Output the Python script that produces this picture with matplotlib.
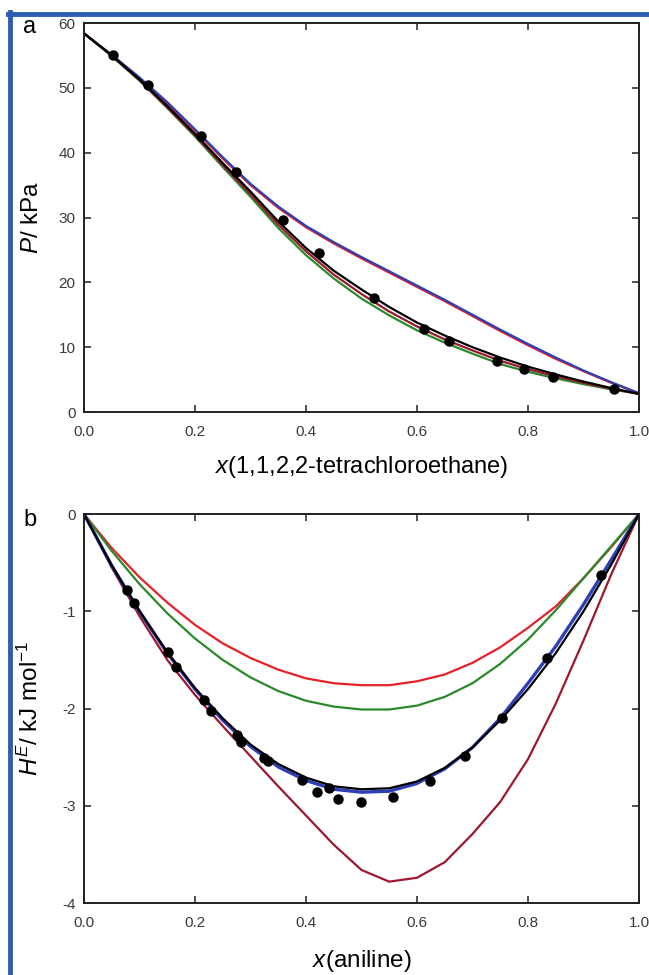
import numpy as np
import matplotlib
matplotlib.use("Agg")
import matplotlib.pyplot as plt
from matplotlib.lines import Line2D

plt.rcParams['font.family'] = ['Liberation Sans', 'DejaVu Sans']
plt.rcParams['mathtext.fontset'] = 'custom'
plt.rcParams['mathtext.rm'] = 'Liberation Sans'
plt.rcParams['mathtext.it'] = 'Liberation Sans:italic'

# ---- panel a: vapour pressure ----
xa_exp = [0.052, 0.115, 0.210, 0.273, 0.359, 0.424, 0.523, 0.612, 0.658, 0.745, 0.792, 0.845, 0.955]
pa_exp = [55.0, 50.4, 42.5, 37.0, 29.6, 24.5, 17.6, 12.8, 11.0, 7.9, 6.6, 5.4, 3.5]

x_grid = [0.00, 0.05, 0.10, 0.15, 0.20, 0.25, 0.30, 0.35, 0.40, 0.45, 0.50,
          0.55, 0.60, 0.65, 0.70, 0.75, 0.80, 0.85, 0.90, 0.95, 1.00]
pa_blue = [58.4, 55.1, 51.6, 47.8, 43.6, 39.3, 35.2, 31.7, 28.7, 26.2, 23.9,
           21.7, 19.5, 17.3, 15.0, 12.7, 10.5, 8.4, 6.4, 4.6, 2.9]
pa_red = [58.4, 55.0, 51.5, 47.6, 43.4, 39.1, 35.0, 31.5, 28.5, 26.0, 23.7,
          21.5, 19.3, 17.1, 14.8, 12.5, 10.3, 8.2, 6.3, 4.5, 2.9]
pa_black = [58.4, 55.0, 51.3, 47.2, 42.9, 38.4, 34.0, 29.4, 25.3, 21.8, 18.9,
            16.2, 13.8, 11.8, 10.0, 8.4, 7.0, 5.8, 4.7, 3.7, 2.8]
pa_dred = [58.4, 54.95, 51.2, 47.0, 42.7, 38.1, 33.6, 28.9, 24.8, 21.2, 18.2,
           15.5, 13.2, 11.2, 9.5, 7.9, 6.6, 5.5, 4.5, 3.6, 2.8]
pa_green = [58.4, 54.9, 51.1, 46.9, 42.5, 37.8, 33.2, 28.4, 24.2, 20.6, 17.5,
            14.9, 12.6, 10.7, 9.0, 7.4, 6.2, 5.2, 4.3, 3.5, 2.8]

# ---- panel b: excess enthalpy ----
xb_exp = [0.077, 0.091, 0.151, 0.166, 0.216, 0.229, 0.276, 0.283, 0.324, 0.332,
          0.392, 0.419, 0.441, 0.458, 0.500, 0.557, 0.623, 0.686, 0.754, 0.835, 0.931]
hb_exp = [-0.78, -0.92, -1.42, -1.57, -1.91, -2.03, -2.27, -2.34, -2.51, -2.54,
          -2.73, -2.86, -2.82, -2.93, -2.96, -2.91, -2.75, -2.49, -2.10, -1.48, -0.63]

hb_red = [0, -0.35, -0.65, -0.91, -1.14, -1.33, -1.48, -1.60, -1.69, -1.74, -1.76,
          -1.76, -1.72, -1.65, -1.53, -1.37, -1.17, -0.95, -0.66, -0.34, 0]
hb_green = [0, -0.38, -0.72, -1.02, -1.28, -1.50, -1.68, -1.82, -1.92, -1.98, -2.01,
            -2.01, -1.97, -1.88, -1.74, -1.54, -1.29, -0.99, -0.66, -0.33, 0]
hb_black = [0, -0.53, -1.00, -1.42, -1.79, -2.10, -2.37, -2.57, -2.71, -2.80, -2.83,
            -2.82, -2.75, -2.61, -2.40, -2.12, -1.80, -1.43, -1.00, -0.52, 0]
hb_blue = [0, -0.53, -1.00, -1.43, -1.80, -2.12, -2.39, -2.60, -2.74, -2.83, -2.86,
           -2.85, -2.77, -2.62, -2.40, -2.10, -1.74, -1.36, -0.93, -0.47, 0]
hb_dred = [0, -0.55, -1.05, -1.50, -1.86, -2.18, -2.49, -2.80, -3.10, -3.40, -3.66,
           -3.78, -3.74, -3.58, -3.29, -2.96, -2.52, -1.95, -1.30, -0.62, 0]

C_BLUE = '#2b3fb8'
C_RED = '#e8202a'
C_DRED = '#9b1830'
C_GREEN = '#2a8a2a'
TICK_COL = '#3a3a3a'

fig = plt.figure(figsize=(6.49, 9.75), dpi=100)
ax_a = fig.add_axes([0.1294, 0.5774, 0.8552, 0.3990])
ax_b = fig.add_axes([0.1294, 0.0738, 0.8552, 0.3990])


def style(ax):
    for s in ax.spines.values():
        s.set_linewidth(1.4)
        s.set_color('#222222')
    ax.tick_params(direction='in', top=True, right=True, length=5, width=1.1,
                   labelsize=11, labelcolor=TICK_COL, color='#222222')
    ax.tick_params(axis='x', pad=9)
    ax.tick_params(axis='y', pad=6)
    ax.set_xlim(0, 1)
    ax.set_xticks([0, 0.2, 0.4, 0.6, 0.8, 1.0])
    ax.set_xticklabels(['0.0', '0.2', '0.4', '0.6', '0.8', '1.0'])
    ax.yaxis.set_label_coords(-0.074, 0.5)


lw = 1.6
ax_a.plot(x_grid, pa_red, color=C_RED, lw=lw)
ax_a.plot(x_grid, pa_blue, color=C_BLUE, lw=lw)
ax_a.plot(x_grid, pa_green, color=C_GREEN, lw=lw)
ax_a.plot(x_grid, pa_dred, color=C_DRED, lw=lw)
ax_a.plot(x_grid, pa_black, color='black', lw=lw)
ax_a.plot(xa_exp, pa_exp, 'o', color='black', ms=6.5, zorder=5)
style(ax_a)
ax_a.set_ylim(0, 60)
ax_a.set_yticks(range(0, 61, 10))
ax_a.set_xlabel('$\\mathit{x}$(1,1,2,2-tetrachloroethane)', fontsize=17, labelpad=11)
ax_a.set_ylabel('$\\mathit{P}$/ kPa', fontsize=17.5)

ax_b.plot(x_grid, hb_red, color=C_RED, lw=lw)
ax_b.plot(x_grid, hb_green, color=C_GREEN, lw=lw)
ax_b.plot(x_grid, hb_dred, color=C_DRED, lw=lw)
ax_b.plot(x_grid, hb_blue, color=C_BLUE, lw=2.4)
ax_b.plot(x_grid, hb_black, color='black', lw=lw)
ax_b.plot(xb_exp, hb_exp, 'o', color='black', ms=6.5, zorder=5)
style(ax_b)
ax_b.set_ylim(-4, 0)
ax_b.set_yticks([-4, -3, -2, -1, 0])
ax_b.set_yticklabels(['-4', '-3', '-2', '-1', '0'])
ax_b.set_xlabel('$\\mathit{x}$(aniline)', fontsize=17.5, labelpad=13)
ax_b.set_ylabel('$\\mathit{H}^{E}$/ kJ mol$^{-1}$', fontsize=17.5)

fig.text(30 / 649, 1 - 27 / 975, 'a', fontsize=17, ha='center', va='center')
fig.text(30 / 649, 1 - 520 / 975, 'b', fontsize=17, ha='center', va='center')

# blue frame around the figure (top and left edges visible)
fig.add_artist(Line2D([9.5 / 649, 9.5 / 649], [0, 1 - 12 / 975],
                      transform=fig.transFigure, color='#2f5cb3', lw=3.5))
fig.add_artist(Line2D([8 / 649, 1], [1 - 14 / 975, 1 - 14 / 975],
                      transform=fig.transFigure, color='#2f5cb3', lw=3.5))

fig.savefig('out.png', dpi=100)
